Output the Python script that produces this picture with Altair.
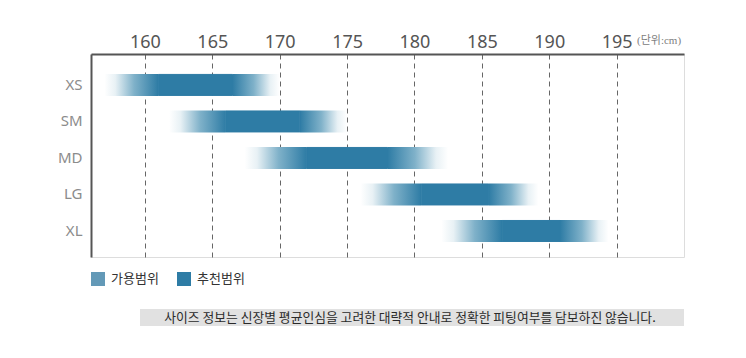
import altair as alt
import pandas as pd

sizes = ["XS", "SM", "MD", "LG", "XL"]
avail_min = [157, 161.8, 167.4, 176, 182]
avail_max = [170, 175, 182.5, 189.2, 194.4]
rec_min = [161, 166, 172, 180.5, 186.5]
rec_max = [166.5, 171.5, 178, 185.5, 190.8]
x_ticks = [160, 165, 170, 175, 180, 185, 190, 195]
legend_labels = ["가용범위", "추천범위"]
legend_colors = ["#6399b7", "#2e7ca5"]
unit_text = "(단위:cm)"
note_text = "사이즈 정보는 신장별 평균인심을 고려한 대략적 안내로 정확한 피팅여부를 담보하진 않습니다."

df = pd.DataFrame({
    "size": sizes,
    "amin": avail_min,
    "amax": avail_max,
    "rmin": rec_min,
    "rmax": rec_max,
    "kind": ["추천범위"] * len(sizes),
})

DARK = "#2e7ca5"
grad_in = alt.LinearGradient(
    gradient="linear",
    stops=[alt.GradientStop(color="#ffffff", offset=0),
           alt.GradientStop(color="#e8f1f5", offset=0.2),
           alt.GradientStop(color="#7fb1c9", offset=0.55),
           alt.GradientStop(color=DARK, offset=1)],
    x1=0, x2=1, y1=0, y2=0,
)
grad_out = alt.LinearGradient(
    gradient="linear",
    stops=[alt.GradientStop(color=DARK, offset=0),
           alt.GradientStop(color="#7fb1c9", offset=0.45),
           alt.GradientStop(color="#e8f1f5", offset=0.8),
           alt.GradientStop(color="#ffffff", offset=1)],
    x1=0, x2=1, y1=0, y2=0,
)

xscale = alt.Scale(domain=[156, 200], nice=False, zero=False)
yscale = alt.Scale(domain=sizes, paddingInner=0, paddingOuter=0.28, align=0.62)

x_enc = alt.X(
    "amin:Q", scale=xscale, title=None,
    axis=alt.Axis(
        orient="top", values=x_ticks, ticks=False, grid=True,
        gridDash=[5, 4], gridColor="#666666", gridWidth=1,
        domainColor="#555555", domainWidth=2,
        labelFont="Noto Sans", labelFontSize=18, labelColor="#555555",
        labelPadding=3, labelFlush=False,
    ),
)
y_enc = alt.Y(
    "size:N", sort=sizes, scale=yscale, title=None,
    axis=alt.Axis(
        ticks=False, domainColor="#555555", domainWidth=2,
        labelFont="Noto Sans", labelFontSize=15, labelColor="#8c8c8c",
        labelPadding=9,
    ),
)

base = alt.Chart(df)
left = base.mark_bar(height=22, color=grad_in).encode(
    x=x_enc, x2="rmin:Q", y=y_enc
)
right = base.mark_bar(height=22, color=grad_out).encode(
    x=alt.X("rmax:Q", scale=xscale), x2="amax:Q", y=alt.Y("size:N", sort=sizes, scale=yscale)
)
core = base.mark_bar(height=21, stroke=DARK, strokeWidth=1).encode(
    x=alt.X("rmin:Q", scale=xscale), x2="rmax:Q", y=alt.Y("size:N", sort=sizes, scale=yscale),
    color=alt.Color(
        "kind:N",
        scale=alt.Scale(domain=legend_labels, range=legend_colors),
        legend=alt.Legend(
            orient="none", legendX=0, legendY=218, direction="horizontal",
            title=None, symbolType="square", symbolSize=196, symbolStrokeWidth=0,
            symbolOpacity=1, labelFont="Noto Sans CJK KR", labelFontSize=13,
            labelColor="#333333", labelOffset=6, columnPadding=18,
        ),
    ),
)

info = alt.Chart(pd.DataFrame({"unit": [unit_text], "note": [note_text]}))
unit = info.mark_text(
    align="left", baseline="middle", font="Liberation Serif, Noto Sans CJK KR",
    fontSize=11, color="#808080"
).encode(x=alt.value(546), y=alt.value(-13), text="unit:N")
note_box = info.mark_rect(color="#e1e1e1").encode(
    x=alt.value(49), x2=alt.value(593), y=alt.value(255), y2=alt.value(272)
)
note = info.mark_text(
    align="center", baseline="middle", font="Noto Sans CJK KR", fontSize=12.8, color="#2a2a2a"
).encode(x=alt.value(319), y=alt.value(264), text="note:N")

chart = alt.layer(left, right, core, unit, note_box, note).properties(
    width=593, height=203,
    autosize=alt.AutoSizeParams(type="none"),
    padding={"left": 91, "top": 54, "right": 62, "bottom": 101},
).configure_view(stroke=None).configure(background="white")

chart.save("out.html", embed_options={"renderer": "svg", "actions": False})
